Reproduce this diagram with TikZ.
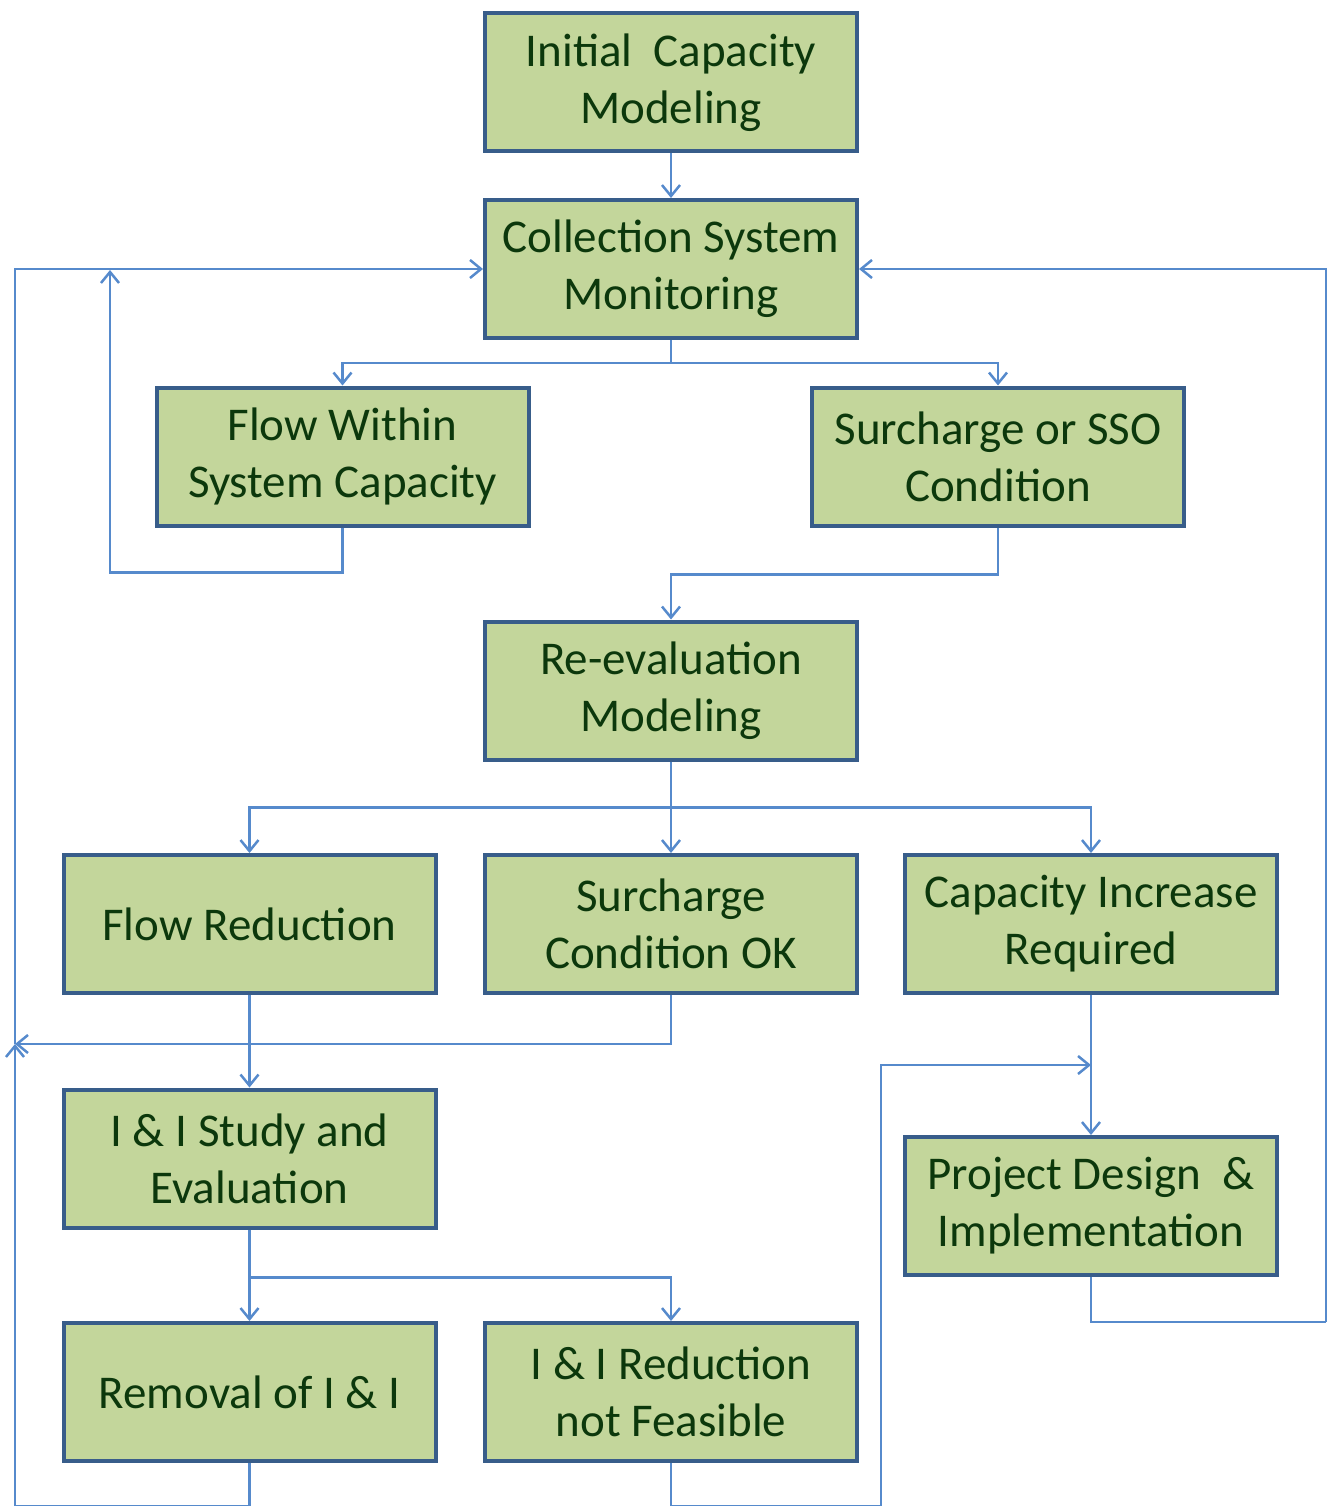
\documentclass[tikz,border=0pt]{standalone}
\usepackage{fontspec}
\setmainfont{Carlito}
\usetikzlibrary{arrows.meta}
\definecolor{boxfill}{RGB}{195,214,155}
\definecolor{boxline}{RGB}{56,93,138}
\definecolor{lnc}{RGB}{86,138,204}
\definecolor{txt}{RGB}{12,56,12}
\begin{document}
\begin{tikzpicture}[x=1pt,y=-1pt,
  box/.style={draw=boxline, fill=boxfill, line width=4pt, minimum width=372pt, minimum height=138pt,
    text=txt, align=center, font=\fontsize{47}{57}\selectfont, inner sep=0pt},
  conn/.style={draw=lnc, line width=2.5pt},
  arr/.style={conn, -{Straight Barb[length=11pt,width=18pt,line width=2.5pt]}}]
\useasboundingbox (0,0) rectangle (1336,1506);

\node[box] (init) at (671,82.5) {Initial\ \ Capacity\\Modeling};
\node[box] (csm) at (671,269) {Collection System\\Monitoring};
\node[box] (fw) at (342.5,456.5) {Flow Within\\System Capacity};
\node[box] (sso) at (998,456.5) {Surcharge or SSO\\Condition};
\node[box] (reev) at (671,690.5) {Re-evaluation\\Modeling};
\node[box] (fr) at (249.5,924) {Flow Reduction};
\node[box] (sok) at (671,924) {Surcharge\\Condition OK};
\node[box] (cap) at (1091,924) {Capacity Increase\\Required};
\node[box] (ii) at (249.5,1158.5) {I \& I Study and\\Evaluation};
\node[box] (pd) at (1091,1206) {Project Design\ \ \&\\Implementation};
\node[box] (rem) at (249.5,1392) {Removal of I \& I};
\node[box] (inf) at (671,1392) {I \& I Reduction\\not Feasible};

\coordinate (fwup) at (110,270);
\coordinate (lmid) at (15,1044);
\coordinate (lbot) at (15,1506);
\coordinate (rb) at (1326,1322);
\coordinate (bb) at (881,1506);
\coordinate (cj) at (1091,1065);

\draw[arr] (init) -- (csm);
\draw[conn] (csm.south) -- ++(0,23) coordinate (j1);
\draw[arr] (j1) -| (fw.north);
\draw[arr] (j1) -| (sso.north);
\draw[arr] (fw.south) -- ++(0,45) -| (fwup);
\draw[arr] (sso.south) -- ++(0,47) -| (reev.north);
\draw[conn] (reev.south) -- ++(0,46) coordinate (j2);
\draw[arr] (j2) -| (fr.north);
\draw[arr] (j2) -- (sok.north);
\draw[arr] (j2) -| (cap.north);
\draw[arr] (fr) -- (ii);
\draw[arr] (sok.south) |- (lmid);
\draw[arr] (lbot) -- (lmid);
\draw[arr] (lmid) |- (csm.west);
\draw[conn] (rem.south) |- (lbot);
\draw[arr] (cap) -- (pd);
\draw[conn] (pd.south) |- (rb);
\draw[arr] (rb) |- (csm.east);
\draw[conn] (ii.south) -- ++(0,48) coordinate (j3);
\draw[arr] (j3) -- (rem.north);
\draw[arr] (j3) -| (inf.north);
\draw[arr] (inf.south) |- (bb) |- (cj);
\end{tikzpicture}
\end{document}
